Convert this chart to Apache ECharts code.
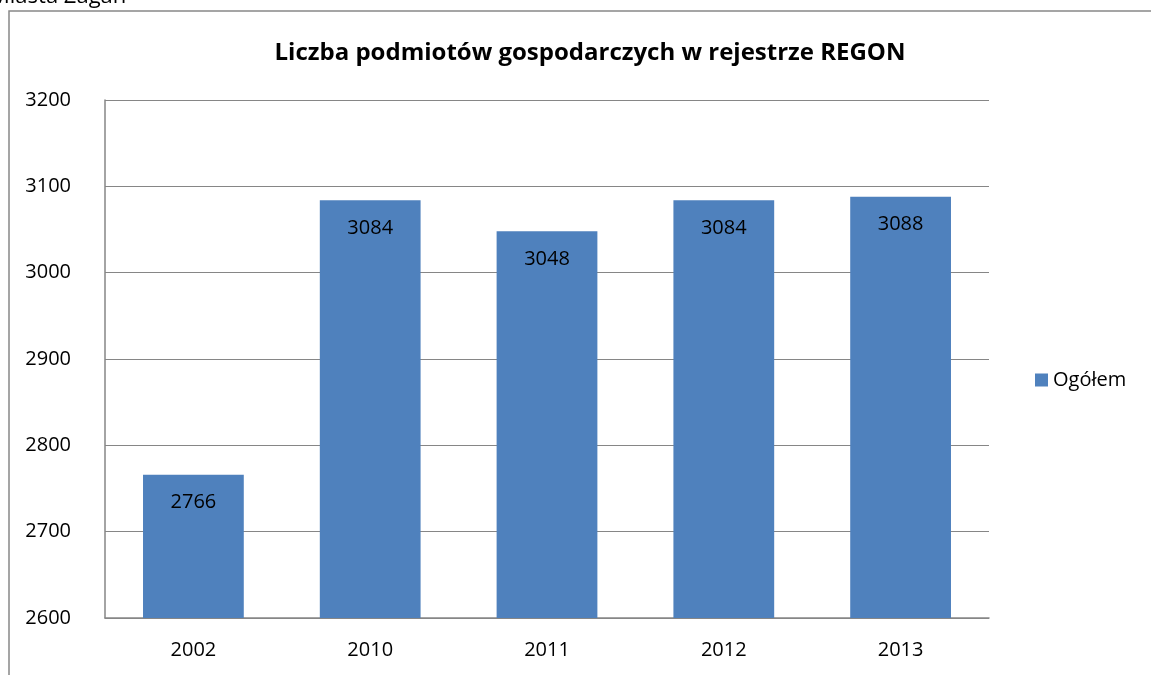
<!DOCTYPE html>
<html>
<head>
<meta charset="utf-8">
<style>
html, body { margin: 0; padding: 0; background: #fff; }
#main { width: 1151px; height: 675px; }
</style>
<script src="https://cdn.jsdelivr.net/npm/echarts@6/dist/echarts.min.js"></script>
</head>
<body>
<div id="main"></div>
<script>
// data
var years = ['2002', '2010', '2011', '2012', '2013'];
var ogolem = [2766, 3084, 3048, 3084, 3088];
var seriesName = 'Ogółem';
var titleText = 'Liczba podmiotów gospodarczych w rejestrze REGON';

var font = '"Open Sans", Lato, sans-serif';

var myChart = echarts.init(document.getElementById('main'));
var option = {
  animation: false,
  textStyle: { fontFamily: font },
  title: {
    text: titleText,
    left: 585,
    textAlign: 'center',
    top: 36,
    textStyle: { fontSize: 24, fontWeight: 'bold', color: '#000', fontFamily: font }
  },
  legend: {
    data: [seriesName],
    orient: 'vertical',
    left: 1030,
    top: 365,
    icon: 'rect',
    itemWidth: 13,
    itemHeight: 13,
    itemGap: 6,
    textStyle: { fontSize: 20, color: '#000', fontFamily: font }
  },
  grid: {
    left: 105,
    right: 162,
    top: 100,
    bottom: 57
  },
  xAxis: [{
    type: 'category',
    data: years,
    axisTick: { show: false },
    axisLine: { lineStyle: { color: '#868686', width: 1.5 } },
    axisLabel: { fontSize: 20, color: '#000', margin: 22 }
  }],
  yAxis: [{
    type: 'value',
    min: 2600,
    max: 3200,
    interval: 100,
    axisTick: { show: false },
    axisLine: { show: true, lineStyle: { color: '#868686', width: 1.5 } },
    axisLabel: {
      fontSize: 20,
      color: '#000',
      margin: 34,
      formatter: function (v) { return String(v); }
    },
    splitLine: { lineStyle: { color: '#868686', width: 1 } }
  }],
  graphic: [{
    type: 'rect',
    shape: { x: 9, y: 11, width: 1200, height: 700 },
    style: { fill: 'none', stroke: '#888', lineWidth: 1.5 },
    silent: true
  }, {
    type: 'text',
    left: -10,
    top: -14,
    style: { text: 'Miasta Żagań', fontSize: 22, fill: '#000', fontFamily: font },
    silent: true
  }],
  series: [{
    name: seriesName,
    type: 'bar',
    barCategoryGap: '43%',
    itemStyle: { color: '#4F81BD' },
    label: {
      show: true,
      position: 'insideTop',
      distance: 18,
      fontSize: 20,
      color: '#000'
    },
    data: ogolem
  }]
};
myChart.setOption(option, true);
</script>
</body>
</html>
